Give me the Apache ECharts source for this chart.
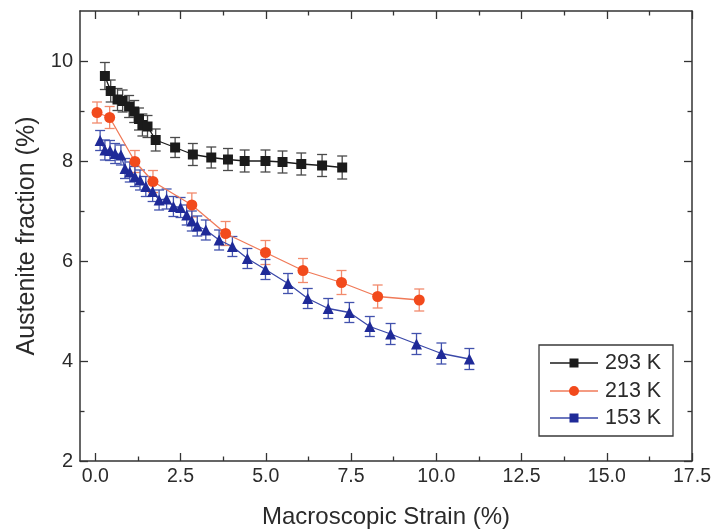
<!DOCTYPE html>
<html><head><meta charset="utf-8">
<script src="https://cdn.jsdelivr.net/npm/echarts@6/dist/echarts.min.js"></script>
<style>html,body{margin:0;padding:0;background:#fff}#c{width:715px;height:529px}</style>
</head><body><div id="c"></div>
<script>
// ---- data ----
const xTicks = [0, 2.5, 5, 7.5, 10, 12.5, 15, 17.5];
const xMinor = [1.25, 3.75, 6.25, 8.75, 11.25, 13.75, 16.25];
const yTicks = [2, 4, 6, 8, 10];
const yMinor = [3, 5, 7, 9];
const seriesNames = ['293 K', '213 K', '153 K'];

const x293 = [0.28, 0.45, 0.65, 0.80, 0.99, 1.14, 1.28, 1.38, 1.53, 1.77, 2.34, 2.86, 3.40, 3.89, 4.38, 4.99, 5.49, 6.04, 6.65, 7.24];
const y293 = [9.70, 9.40, 9.23, 9.20, 9.09, 8.99, 8.84, 8.72, 8.69, 8.42, 8.27, 8.13, 8.07, 8.03, 8.00, 8.00, 7.98, 7.94, 7.91, 7.87];
const e293 = [0.27, 0.22, 0.22, 0.22, 0.22, 0.22, 0.22, 0.22, 0.22, 0.22, 0.20, 0.22, 0.21, 0.22, 0.22, 0.22, 0.22, 0.22, 0.22, 0.23];

const x213 = [0.05, 0.42, 1.16, 1.69, 2.83, 3.82, 4.99, 6.09, 7.22, 8.28, 9.50];
const y213 = [8.97, 8.87, 7.99, 7.59, 7.12, 6.55, 6.17, 5.81, 5.57, 5.29, 5.22];
const e213 = [0.21, 0.22, 0.22, 0.22, 0.24, 0.24, 0.24, 0.24, 0.24, 0.23, 0.22];

const x153 = [0.14, 0.28, 0.43, 0.58, 0.75, 0.87, 1.01, 1.16, 1.31, 1.48, 1.68, 1.87, 2.09, 2.29, 2.50, 2.68, 2.83, 2.99, 3.24, 3.63, 4.02, 4.46, 4.99, 5.65, 6.23, 6.83, 7.45, 8.05, 8.66, 9.42, 10.15, 10.97];
const y153 = [8.41, 8.22, 8.21, 8.15, 8.12, 7.85, 7.78, 7.69, 7.62, 7.49, 7.39, 7.22, 7.24, 7.09, 7.07, 6.92, 6.80, 6.70, 6.62, 6.42, 6.29, 6.05, 5.83, 5.55, 5.25, 5.05, 4.97, 4.69, 4.54, 4.34, 4.15, 4.04];
const e153 = [0.20, 0.20, 0.20, 0.20, 0.20, 0.20, 0.20, 0.20, 0.20, 0.20, 0.20, 0.20, 0.20, 0.20, 0.20, 0.20, 0.20, 0.20, 0.20, 0.20, 0.20, 0.20, 0.20, 0.20, 0.20, 0.20, 0.20, 0.20, 0.21, 0.21, 0.21, 0.21];

// ---- build ----
const FONT = '"Liberation Sans", Arial, sans-serif';
const TXT = '#2b2b2b';
const AX = '#333333';
const colors = {
  '293 K': {mark: '#1b1b1b', line: '#1b1b1b', err: '#4a4a4a', symbol: 'rect', size: 10},
  '213 K': {mark: '#f24a1c', line: '#f07a58', err: '#f28a6c', symbol: 'circle', size: 11},
  '153 K': {mark: '#1f2a98', line: '#3a48a8', err: '#4252ad', symbol: 'triangle', size: 11}
};
const sets = {
  '293 K': [x293, y293, e293],
  '213 K': [x213, y213, e213],
  '153 K': [x153, y153, e153]
};

const XMIN = -0.45, XMAX = 17.5, YMIN = 2, YMAX = 11;

function xAx(position, tickVals, len, showLabel, showLine, name) {
  return {
    type: 'value', position: position, min: XMIN, max: XMAX,
    name: name || '', nameLocation: 'middle', nameGap: 44,
    nameTextStyle: {fontFamily: FONT, fontSize: 24, color: TXT},
    axisLine: {show: showLine, onZero: false, lineStyle: {color: AX, width: 1.5}},
    axisTick: {show: true, inside: true, length: len, customValues: tickVals, lineStyle: {color: AX, width: 1.3}},
    axisLabel: {show: showLabel, customValues: tickVals, margin: 6, fontFamily: FONT, fontSize: 19.5, color: TXT,
      formatter: v => Number(v).toFixed(1)},
    splitLine: {show: false}
  };
}
function yAx(position, tickVals, len, showLabel, showLine, name) {
  return {
    type: 'value', position: position, min: YMIN, max: YMAX,
    name: name || '', nameLocation: 'middle', nameGap: 39,
    nameTextStyle: {fontFamily: FONT, fontSize: 25, color: TXT},
    axisLine: {show: showLine, onZero: false, lineStyle: {color: AX, width: 1.5}},
    axisTick: {show: true, inside: true, length: len, customValues: tickVals, lineStyle: {color: AX, width: 1.3}},
    axisLabel: {show: showLabel, customValues: tickVals, margin: 7, fontFamily: FONT, fontSize: 20, color: TXT},
    splitLine: {show: false}
  };
}

const series = [];
seriesNames.forEach((nm, i) => {
  const [xs, ys, es] = sets[nm];
  const c = colors[nm];
  series.push({
    name: nm + ' err', type: 'custom', xAxisIndex: 0, yAxisIndex: 0, z: 2 + i,
    data: xs.map((x, k) => [x, ys[k], es[k]]),
    renderItem: function (params, api) {
      const x = api.value(0), y = api.value(1), e = api.value(2);
      const t = api.coord([x, y + e]), b = api.coord([x, y - e]);
      const hw = 5;
      const st = {stroke: c.err, lineWidth: 1.3};
      return {type: 'group', children: [
        {type: 'line', shape: {x1: t[0], y1: t[1], x2: b[0], y2: b[1]}, style: st},
        {type: 'line', shape: {x1: t[0] - hw, y1: t[1], x2: t[0] + hw, y2: t[1]}, style: st},
        {type: 'line', shape: {x1: b[0] - hw, y1: b[1], x2: b[0] + hw, y2: b[1]}, style: st}
      ]};
    },
    silent: true, animation: false
  });
  series.push({
    name: nm, type: 'line', xAxisIndex: 0, yAxisIndex: 0, z: 5 + i,
    data: xs.map((x, k) => [x, ys[k]]),
    symbol: c.symbol, symbolSize: c.size, showAllSymbol: true,
    lineStyle: {color: c.line, width: 1.3},
    itemStyle: {color: c.mark, borderWidth: 0},
    animation: false
  });
});

// legend drawn as graphic (line + marker + text)
const LX = 539, LY = 345, LW = 134, LH = 91;
const legendSymbols = ['rect', 'circle', 'rect'];
const rowsY = [363, 391, 418];
const legendChildren = [{
  type: 'rect', shape: {x: LX, y: LY, width: LW, height: LH},
  style: {fill: '#fff', stroke: '#3a3a3a', lineWidth: 1.3}
}];
seriesNames.forEach((nm, i) => {
  const c = colors[nm];
  const y = rowsY[i];
  legendChildren.push({type: 'line', shape: {x1: 550, y1: y, x2: 598, y2: y}, style: {stroke: c.line, lineWidth: 1.3}});
  if (legendSymbols[i] === 'circle') {
    legendChildren.push({type: 'circle', shape: {cx: 574, cy: y, r: 5}, style: {fill: c.mark}});
  } else {
    legendChildren.push({type: 'rect', shape: {x: 569.5, y: y - 4.5, width: 9, height: 9}, style: {fill: c.mark}});
  }
  legendChildren.push({type: 'text', x: 605, y: y, style: {text: nm, fill: TXT, font: '21.5px ' + FONT, textVerticalAlign: 'middle', verticalAlign: 'middle'}});
});

const option = {
  backgroundColor: '#fff',
  animation: false,
  grid: {left: 80, right: 23, top: 11, bottom: 68, containLabel: false, outerBoundsMode: 'none'},
  xAxis: [
    xAx('bottom', xTicks, 8, true, true, 'Macroscopic Strain (%)'),
    xAx('bottom', xMinor, 4.5, false, false),
    xAx('top', xTicks, 8, false, true),
    xAx('top', xMinor, 4.5, false, false)
  ],
  yAxis: [
    yAx('left', yTicks, 8, true, true, 'Austenite fraction (%)'),
    yAx('left', yMinor, 4.5, false, false),
    yAx('right', yTicks, 8, false, true),
    yAx('right', yMinor, 4.5, false, false)
  ],
  series: series,
  graphic: [{type: 'group', z: 100, children: legendChildren}]
};

const chart = echarts.init(document.getElementById('c'), null, {renderer: 'canvas'});
chart.setOption(option);
</script>
</body></html>
